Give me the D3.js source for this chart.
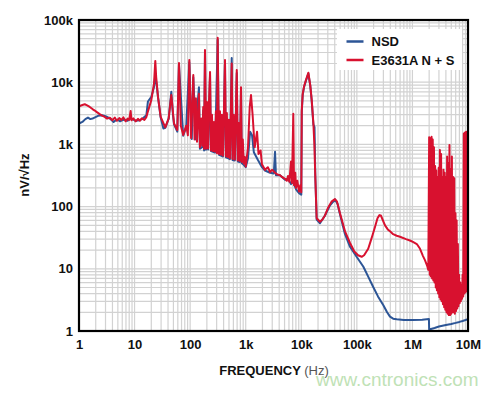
<!DOCTYPE html>
<html>
<head>
<meta charset="utf-8">
<script src="https://cdn.jsdelivr.net/npm/d3@7"></script>
<style>
  body { margin: 0; background: #fff; }
  svg { display: block; font-family: "Liberation Sans", Arial, sans-serif; }
</style>
</head>
<body>
<div id="chart"></div>
<script>
// axis ticks
var xTickValues = [1, 10, 100, 1e3, 1e4, 1e5, 1e6, 1e7];
var xTickLabels = ["1", "10", "100", "1k", "10k", "100k", "1M", "10M"];
var yTickValues = [1, 10, 100, 1e3, 1e4, 1e5];
var yTickLabels = ["1", "10", "100", "1k", "10k", "100k"];
var seriesNames = ["NSD", "E3631A N + S"];

// NSD (blue) [Hz, nV/rtHz]
var nsdData = [
  [1.0, 2170], [1.15, 2300], [1.3, 2550], [1.45, 2700], [1.6, 2550], [1.75, 2600], [1.9, 2700],
  [2.2, 2880], [2.6, 2950], [3.0, 2850], [3.4, 2700], [3.8, 2500], [4.2, 2300], [4.6, 2450],
  [5.0, 2500], [5.5, 2350], [6.0, 2450], [6.6, 2500], [7.5, 2400], [8.5, 2630], [9.5, 2500],
  [10.5, 2400], [12.4, 2450], [14, 2600], [16.3, 2950], [17.4, 4900], [20, 5800], [22.4, 8400],
  [23.6, 13000], [25, 9000], [26.4, 5800], [29.5, 2700], [33, 1800], [35.7, 1850], [41.1, 2600],
  [45.8, 7000], [49, 3000], [51.3, 2100], [58.7, 1600], [63, 19000], [75, 1380], [85, 1900],
  [96.6, 21000], [107, 1220], [114, 12000], [127, 1200], [135, 4000], [144, 8300], [150, 850],
  [165, 900], [172, 3500], [178, 800], [185, 30000], [193, 820], [201, 4000], [210, 830],
  [228, 13000], [237, 780], [258, 760], [280, 740], [313, 48000], [330, 680], [358, 660],
  [389, 640], [424, 20000], [440, 620], [478, 600], [519, 580], [560, 24500], [580, 560],
  [637, 550], [690, 14000], [721, 530], [783, 520], [823, 7500], [850, 500], [923, 470],
  [1000, 430], [1100, 600], [1200, 1600], [1300, 1400], [1400, 750], [1660, 560], [1960, 430],
  [2220, 380], [2740, 350], [3200, 340], [3370, 760], [3500, 320], [4140, 320], [5090, 270],
  [5770, 280], [6530, 230], [7180, 250], [8030, 190], [9100, 165], [10000, 155],
  [10200, 3300], [10600, 6200], [11200, 8300], [12000, 10200], [13400, 13800], [14500, 8800],
  [15400, 5000], [16500, 2100], [17300, 1900], [17900, 300], [18900, 62], [21700, 54],
  [26700, 72], [32900, 105], [40400, 130], [45000, 110], [49700, 75], [61200, 36],
  [75300, 22.6], [99000, 15.6], [131000, 10.8], [160000, 7.5], [195000, 5.2], [240000, 3.6],
  [300000, 2.6], [350000, 2.0], [395000, 1.7], [450000, 1.58], [521000, 1.54], [700000, 1.5],
  [1.02e6, 1.5], [1.5e6, 1.52], [1.98e6, 1.56], [2.0e6, 1.06], [2.5e6, 1.12], [3.0e6, 1.18],
  [4.0e6, 1.25], [5.0e6, 1.3], [6.0e6, 1.35], [7.0e6, 1.4], [8.0e6, 1.45], [9.0e6, 1.5],
  [1.0e7, 1.55]
];

// E3631A noise + signal (red) [Hz, nV/rtHz]
var e3631Data = [
  [1.0, 4100], [1.15, 4300], [1.27, 4420], [1.4, 4250], [1.56, 4000], [1.75, 3700], [1.92, 3500],
  [2.1, 3300], [2.36, 3070], [2.6, 2900], [2.9, 2770], [3.2, 2600], [3.6, 2680], [4.0, 2450],
  [4.4, 2700], [4.8, 2400], [5.3, 2650], [5.8, 2480], [6.3, 2720], [6.9, 2350], [7.5, 2600],
  [8.0, 2480], [8.5, 3440], [8.8, 2450], [9.5, 2620], [10.5, 2350], [11.5, 2580], [12.5, 2400],
  [13.5, 2620], [15.0, 2480], [16.3, 2750], [17.4, 3400], [20.0, 5150], [22.4, 9600],
  [23.6, 22000], [24.5, 12000], [26.4, 5800], [29.5, 2770], [35.7, 1880], [41.1, 2630],
  [45.8, 6230], [51.3, 2170], [58.7, 1700], [63, 20400], [68, 2000], [75, 1420], [85, 2000],
  [91, 1400], [96.6, 22700], [104, 1270], [114, 13000], [120, 1200], [127, 5500], [133, 1100],
  [144, 6500], [150, 900], [158, 2600], [165, 950], [172, 4000], [178, 850], [185, 33000],
  [193, 850], [201, 4800], [210, 860], [218, 4500], [228, 14600], [237, 800], [247, 3000],
  [258, 780], [268, 2300], [280, 760], [291, 3400], [304, 720], [313, 52000], [330, 700],
  [344, 3400], [358, 680], [373, 3000], [389, 660], [405, 3200], [424, 22700], [440, 640],
  [458, 3200], [478, 620], [498, 2500], [519, 600], [540, 2800], [560, 20000], [580, 580],
  [611, 3000], [637, 570], [664, 2500], [690, 15700], [721, 550], [751, 2200], [783, 540],
  [823, 8300], [850, 520], [886, 1200], [923, 490], [962, 630], [1000, 440],
  [1100, 900], [1180, 4000], [1245, 6230], [1330, 3000], [1450, 900], [1600, 1600], [1700, 700],
  [1850, 800], [1960, 480], [2220, 390], [2500, 430], [2740, 360], [3000, 390], [3370, 350],
  [3700, 330], [4140, 320], [4500, 300], [5090, 280], [5500, 260], [5770, 310], [6100, 250],
  [6530, 530], [6800, 240], [7180, 3100], [7400, 220], [7800, 350], [8030, 200], [8500, 260],
  [9100, 175], [9600, 220], [10000, 170],
  [10200, 3500], [10600, 6500], [11200, 8500], [12000, 10500], [13400, 14200], [14500, 9000],
  [15400, 5200], [16500, 2200], [17200, 1000], [17700, 400], [18900, 65],
  [21700, 57], [24000, 62], [26700, 72], [30000, 94], [35000, 120], [40400, 132], [44000, 120],
  [49700, 78], [61200, 40], [75300, 26], [90000, 19], [105000, 16.5], [122000, 15.6],
  [135000, 16.5], [146000, 18.5], [160000, 21], [172000, 25.6], [190000, 34], [212000, 47],
  [235000, 65], [255000, 73], [270000, 72], [290000, 62], [321000, 50], [360000, 43],
  [395000, 40], [450000, 36], [521000, 34], [597000, 32.7], [766000, 30], [900000, 28.5],
  [1.02e6, 27], [1.2e6, 25], [1.37e6, 21], [1.55e6, 16], [1.68e6, 13.8], [1.85e6, 11],
  [1.93e6, 9.6],
  [2.00e6, 1300], [2.05e6, 8], [2.10e6, 1250], [2.15e6, 7.5], [2.21e6, 1330], [2.26e6, 7],
  [2.32e6, 1200], [2.38e6, 6.5], [2.44e6, 900], [2.50e6, 6], [2.56e6, 450], [2.63e6, 5],
  [2.69e6, 380], [2.76e6, 4.5], [2.83e6, 300], [2.90e6, 4], [2.97e6, 420], [3.05e6, 3.5],
  [3.12e6, 810], [3.20e6, 3.2], [3.28e6, 700], [3.37e6, 3], [3.45e6, 300], [3.54e6, 2.7],
  [3.62e6, 390], [3.72e6, 2.4], [3.81e6, 350], [3.90e6, 2.2], [4.00e6, 300], [4.10e6, 2],
  [4.21e6, 640], [4.31e6, 1.9], [4.42e6, 500], [4.53e6, 1.8], [4.64e6, 980], [4.76e6, 1.8],
  [4.88e6, 400], [5.00e6, 1.9], [5.13e6, 640], [5.26e6, 2], [5.39e6, 300], [5.52e6, 2],
  [5.66e6, 285], [5.80e6, 1.9], [5.95e6, 78], [6.10e6, 2.1], [6.25e6, 60], [6.41e6, 2.3],
  [6.57e6, 25], [6.73e6, 2.5], [6.90e6, 8], [7.07e6, 2.8], [7.25e6, 6], [7.43e6, 3],
  [7.62e6, 5.5], [7.81e6, 3.3], [8.00e6, 8], [8.20e6, 3.6], [8.41e6, 1500], [8.62e6, 4],
  [8.84e6, 1550], [9.06e6, 4.2], [9.28e6, 1600], [9.52e6, 4.4], [9.76e6, 1600], [1.0e7, 4.6]
];

var width = 500, height = 393;
var plot = {left: 79, right: 468, top: 20, bottom: 331};

var svg = d3.select("#chart").append("svg")
  .attr("width", width)
  .attr("height", height);

var x = d3.scaleLog().domain([1, 1e7]).range([plot.left, plot.right]);
var y = d3.scaleLog().domain([1, 1e5]).range([plot.bottom, plot.top]);

// minor grid: 1..9 in every decade
var xGrid = [], yGrid = [];
xTickValues.forEach(function(d) { for (var k = 1; k < 10; k++) if (d * k <= 1e7) xGrid.push(d * k); });
yTickValues.forEach(function(d) { for (var k = 1; k < 10; k++) if (d * k <= 1e5) yGrid.push(d * k); });

var grid = svg.append("g").attr("stroke", "#d2d2d2").attr("stroke-width", 1.2);
grid.selectAll("line.v").data(xGrid).enter().append("line")
  .attr("class", "v")
  .attr("x1", function(d) { return x(d); }).attr("x2", function(d) { return x(d); })
  .attr("y1", plot.top).attr("y2", plot.bottom);
grid.selectAll("line.h").data(yGrid).enter().append("line")
  .attr("class", "h")
  .attr("y1", function(d) { return y(d); }).attr("y2", function(d) { return y(d); })
  .attr("x1", plot.left).attr("x2", plot.right);

// legend box sits over the grid
svg.append("rect")
  .attr("x", 337).attr("y", 29).attr("width", 125).attr("height", 41)
  .attr("fill", "#fff");

svg.append("clipPath").attr("id", "clip").append("rect")
  .attr("x", plot.left).attr("y", plot.top)
  .attr("width", plot.right - plot.left).attr("height", plot.bottom - plot.top);

var line = d3.line()
  .x(function(d) { return x(d[0]); })
  .y(function(d) { return y(d[1]); });

var curves = svg.append("g").attr("clip-path", "url(#clip)");
curves.append("path").datum(nsdData)
  .attr("d", line).attr("fill", "none")
  .attr("stroke", "#2c5596").attr("stroke-width", 2).attr("stroke-linejoin", "round");
curves.append("path").datum(e3631Data)
  .attr("d", line).attr("fill", "none")
  .attr("stroke", "#d8112f").attr("stroke-width", 2).attr("stroke-linejoin", "round");

// frame
svg.append("rect")
  .attr("x", plot.left).attr("y", plot.top)
  .attr("width", plot.right - plot.left).attr("height", plot.bottom - plot.top)
  .attr("fill", "none").attr("stroke", "#000").attr("stroke-width", 2.2);

// axes (labels only)
var xAxis = svg.append("g")
  .attr("transform", "translate(0," + plot.bottom + ")")
  .call(d3.axisBottom(x).tickValues(xTickValues)
    .tickFormat(function(d, i) { return xTickLabels[i]; })
    .tickSize(0).tickPadding(9));
var yAxis = svg.append("g")
  .attr("transform", "translate(" + plot.left + ",0)")
  .call(d3.axisLeft(y).tickValues(yTickValues)
    .tickFormat(function(d, i) { return yTickLabels[i]; })
    .tickSize(0).tickPadding(6));
[xAxis, yAxis].forEach(function(a) {
  a.select(".domain").remove();
  a.selectAll("text")
    .attr("fill", "#111")
    .style("font-family", "'Liberation Sans', Arial, sans-serif")
    .style("font-size", "13px")
    .style("font-weight", "bold");
});

// axis titles
svg.append("text")
  .attr("transform", "translate(29,175) rotate(-90)")
  .attr("text-anchor", "middle")
  .attr("fill", "#111")
  .style("font-size", "13px").style("font-weight", "bold")
  .text("nV/√Hz");

var xt = svg.append("text")
  .attr("x", 274).attr("y", 375)
  .attr("text-anchor", "middle")
  .style("font-size", "13px");
xt.append("tspan").attr("fill", "#111").style("font-weight", "bold").text("FREQUENCY ");
xt.append("tspan").attr("fill", "#555").text("(Hz)");

// legend
var legendColors = ["#2c5596", "#d8112f"];
seriesNames.forEach(function(name, i) {
  var ly = 41.5 + i * 18.5;
  svg.append("line")
    .attr("x1", 346.5).attr("x2", 363.5).attr("y1", ly).attr("y2", ly)
    .attr("stroke", legendColors[i]).attr("stroke-width", 2.5);
  svg.append("text")
    .attr("x", 371.5).attr("y", ly).attr("dy", "0.35em")
    .attr("fill", "#111")
    .style("font-size", "13px").style("font-weight", "bold")
    .text(name);
});

// watermark
svg.append("text")
  .attr("x", 316).attr("y", 386)
  .attr("fill", "#bfe2b6")
  .style("font-size", "19px")
  .text("www.cntronics.com");
</script>
</body>
</html>
